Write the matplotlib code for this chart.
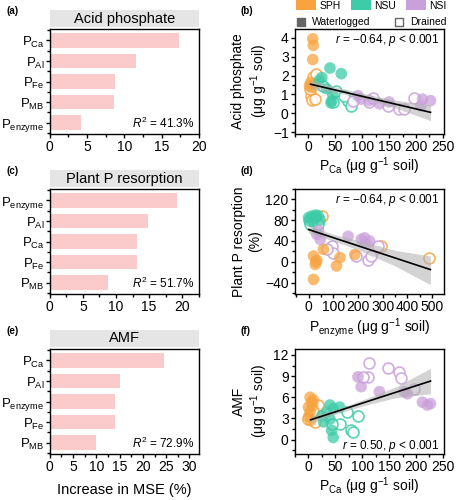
import numpy as np
import matplotlib
matplotlib.use('Agg')
import matplotlib.pyplot as plt
from matplotlib.patches import Rectangle, Patch
from matplotlib.lines import Line2D
from matplotlib.ticker import MultipleLocator

plt.rcParams['font.family'] = ['Liberation Sans', 'DejaVu Sans']
plt.rcParams['mathtext.fontset'] = 'custom'
plt.rcParams['mathtext.rm'] = 'Liberation Sans'
plt.rcParams['mathtext.it'] = 'Liberation Sans:italic'
plt.rcParams['mathtext.bf'] = 'Liberation Sans:bold'
plt.rcParams['axes.linewidth'] = 1.0

# --- random forest importance (Increase in MSE, %) ---
ap_vars = ['Ca', 'Al', 'Fe', 'MB', 'enzyme']
ap_vals = [17.3, 11.6, 8.8, 8.6, 4.2]
pr_vars = ['enzyme', 'Al', 'Ca', 'Fe', 'MB']
pr_vals = [19.25, 14.85, 13.2, 13.15, 8.85]
amf_vars = ['Ca', 'Al', 'enzyme', 'Fe', 'MB']
amf_vals = [24.5, 15.1, 14.1, 14.0, 9.95]

# --- scatter data (x, y) ---
# (b) P_Ca vs acid phosphate
b_sph_wet = [(8, 3.95), (9, 3.6), (8, 2.85), (4, 1.63), (6, 1.37), (2, 1.45), (10, 1.55)]
b_sph_dry = [(8, 1.9), (14, 2.1), (4, 0.9), (6, 0.68), (12, 0.75), (3, 1.3)]
b_nsu_wet = [(40, 2.4), (61, 2.1), (25, 1.9), (20, 1.75), (43, 0.65), (45, 1.0), (34, 1.3), (42, 0.55)]
b_nsu_dry = [(52, 1.2), (46, 0.58), (74, 0.67), (80, 0.4), (28, 1.45), (67, 0.93)]
b_nsi_wet = [(92, 0.93), (132, 0.5), (212, 0.75), (227, 0.67), (113, 0.67), (98, 0.75), (209, 0.4), (150, 0.6)]
b_nsi_dry = [(113, 0.58), (147, 0.4), (169, 0.23), (196, 0.8), (178, 0.23), (83, 0.67), (120, 0.8)]
b_fit_x = [4, 227]
b_fit_y = [1.54, 0.05]
b_band_x = [4, 60, 110, 160, 227]
b_band_lo = [1.28, 1.05, 0.72, 0.3, -0.39]
b_band_hi = [1.75, 1.33, 1.0, 0.7, 0.45]

# (d) P_enzyme vs plant P resorption
d_sph_wet = [(20, 11), (33, 3), (27, -5), (60, 24), (113, -8), (127, 8), (187, 14), (20, -34), (30, 0)]
d_sph_dry = [(53, 88), (293, 30), (487, 8)]
d_nsu_wet = [(0, 85), (13, 88), (27, 85), (40, 88), (7, 78), (20, 77), (47, 80), (30, 90)]
d_nsu_dry = [(0, 81), (7, 72), (40, 73)]
d_nsi_wet = [(160, 49), (213, 43), (227, 46), (247, 40), (33, 53), (47, 43), (40, 60), (230, 36)]
d_nsi_dry = [(93, 30), (100, 17), (240, 4), (267, 24), (280, 30), (73, 24), (253, 11), (193, 11)]
d_fit_x = [0, 493]
d_fit_y = [62, -15]
d_band_x = [0, 100, 200, 350, 493]
d_band_lo = [55, 40, 23, -8, -44]
d_band_hi = [70, 53, 41, 22, 11]

# (f) P_Ca vs AMF
f_sph_wet = [(3, 6.0), (6, 5.3), (0, 4.6), (3, 3.9), (9, 5.6), (0, 3.2), (4, 2.7), (8, 4.8)]
f_sph_dry = [(18, 4.9), (3, 3.4), (9, 4.1), (0, 2.95), (12, 2.5)]
f_nsu_wet = [(40, 4.9), (46, 4.4), (28, 2.5), (43, 1.3), (46, 0.3), (58, 4.6), (34, 3.9), (25, 3.4), (40, 2.9)]
f_nsu_dry = [(71, 3.9), (92, 3.4), (58, 2.2), (43, 2.2), (80, 1.3), (83, 1.05)]
f_nsi_wet = [(92, 8.9), (98, 7.5), (132, 6.8), (178, 6.8), (184, 6.5), (212, 5.3), (227, 5.1), (221, 4.9)]
f_nsi_dry = [(113, 10.8), (147, 10.1), (110, 8.9), (169, 9.6), (172, 8.7), (101, 8.9), (196, 7.2)]
f_fit_x = [4, 227]
f_fit_y = [2.8, 8.3]
f_band_x = [4, 60, 110, 160, 227]
f_band_lo = [2.3, 3.85, 4.95, 5.9, 6.5]
f_band_hi = [3.3, 4.5, 5.9, 7.4, 10.1]

C_SPH = '#f7a440'
C_NSU = '#3ecba8'
C_NSI = '#c9a0da'
BAR_C = '#fbcaca'
UNIT = r'(μg g$^{-1}$ soil)'

fig = plt.figure(figsize=(4.57, 5.0), dpi=100)
rows = [0.732, 0.412, 0.092]
h = 0.21
xl_bar = 0.109
xl_sc = 0.6455
w = 0.326


def style_ticks(ax):
    ax.tick_params(which='major', direction='out', length=3, width=1, labelsize=10, pad=1.5)
    ax.tick_params(which='minor', direction='out', length=2, width=1)


def bar_panel(ax, names, vals, title, r2, xmax, xstep, label):
    y = np.arange(len(names))
    ax.barh(y, vals, height=0.7, color=BAR_C, zorder=2)
    ax.set_yticks(y)
    ax.set_yticklabels([r'$\mathrm{P_{%s}}$' % n for n in names], fontsize=9.5)
    ax.set_ylim(len(names) - 0.45, -0.55)
    ax.yaxis.set_minor_locator(MultipleLocator(0.5))
    ax.set_xlim(0, xmax)
    ax.xaxis.set_major_locator(MultipleLocator(xstep))
    ax.xaxis.set_minor_locator(MultipleLocator(xstep / 2))
    style_ticks(ax)
    ax.tick_params(axis='y', which='major', labelsize=9.5, pad=1)
    ax.add_patch(Rectangle((0, 1.02), 1, 0.165, transform=ax.transAxes,
                           facecolor='#e5e5e5', edgecolor='none', clip_on=False))
    ax.text(0.5, 1.1, title, transform=ax.transAxes, ha='center', va='center', fontsize=10.5)
    ax.text(0.97, 0.1, r'$R^2$ = %s%%' % r2, transform=ax.transAxes,
            ha='right', va='center', fontsize=8.5)
    fig.text(0.014, ax.get_position().y1 + 0.037, label, fontsize=7, fontweight='bold', va='center')


def scatter_panel(ax, groups, fx, fy, bx, blo, bhi, rtext, rpos, label):
    for pts, col, wet in groups:
        xs = [p[0] for p in pts]
        ys = [p[1] for p in pts]
        if wet:
            ax.scatter(xs, ys, s=70, color=col, alpha=0.75, edgecolors='none', zorder=2)
        else:
            ax.scatter(xs, ys, s=62, facecolors='white', edgecolors=col, linewidths=1.2,
                       alpha=0.85, zorder=2)
    ax.fill_between(bx, blo, bhi, color='#b0b0b0', alpha=0.55, lw=0, zorder=3)
    ax.plot(fx, fy, color='black', lw=1.2, zorder=4)
    ax.text(0.97, rpos, rtext, transform=ax.transAxes, ha='right', va='center', fontsize=8.5)
    style_ticks(ax)
    fig.text(0.527, ax.get_position().y1 + 0.037, label, fontsize=7, fontweight='bold', va='center')


# (a) acid phosphate importance
ax_a = fig.add_axes([xl_bar, rows[0], w, h])
bar_panel(ax_a, ap_vars, ap_vals, 'Acid phosphate', '41.3', 20, 5, '(a)')

# (c) plant P resorption importance
ax_c = fig.add_axes([xl_bar, rows[1], w, h])
bar_panel(ax_c, pr_vars, pr_vals, 'Plant P resorption', '51.7', 22.5, 5, '(c)')

# (e) AMF importance
ax_e = fig.add_axes([xl_bar, rows[2], w, h])
bar_panel(ax_e, amf_vars, amf_vals, 'AMF', '72.9', 32, 5, '(e)')
ax_e.set_xlabel('Increase in MSE (%)', fontsize=10.5, labelpad=6)

# (b)
ax_b = fig.add_axes([xl_sc, rows[0], w, h])
scatter_panel(ax_b, [(b_sph_dry, C_SPH, False), (b_nsu_dry, C_NSU, False), (b_nsi_dry, C_NSI, False),
                     (b_sph_wet, C_SPH, True), (b_nsu_wet, C_NSU, True), (b_nsi_wet, C_NSI, True)],
              b_fit_x, b_fit_y, b_band_x, b_band_lo, b_band_hi,
              r'$r$ = −0.64, $p$ < 0.001', 0.9, '(b)')
ax_b.set_xlim(-25, 252)
ax_b.set_ylim(-1.1, 4.47)
ax_b.xaxis.set_major_locator(MultipleLocator(50))
ax_b.xaxis.set_minor_locator(MultipleLocator(25))
ax_b.yaxis.set_major_locator(MultipleLocator(1))
ax_b.yaxis.set_minor_locator(MultipleLocator(0.5))
ax_b.set_xlabel(r'$\mathrm{P_{Ca}}$ ' + UNIT, fontsize=10, labelpad=1)
ax_b.set_ylabel('Acid phosphate\n' + UNIT, fontsize=10, labelpad=2)

# (d)
ax_d = fig.add_axes([xl_sc, rows[1], w, h])
scatter_panel(ax_d, [(d_sph_dry, C_SPH, False), (d_nsu_dry, C_NSU, False), (d_nsi_dry, C_NSI, False),
                     (d_sph_wet, C_SPH, True), (d_nsu_wet, C_NSU, True), (d_nsi_wet, C_NSI, True)],
              d_fit_x, d_fit_y, d_band_x, d_band_lo, d_band_hi,
              r'$r$ = −0.64, $p$ < 0.001', 0.9, '(d)')
ax_d.set_xlim(-55, 548)
ax_d.set_ylim(-62, 140)
ax_d.xaxis.set_major_locator(MultipleLocator(100))
ax_d.xaxis.set_minor_locator(MultipleLocator(50))
ax_d.yaxis.set_major_locator(MultipleLocator(40))
ax_d.yaxis.set_minor_locator(MultipleLocator(20))
ax_d.set_xlabel(r'$\mathrm{P_{enzyme}}$ ' + UNIT, fontsize=10, labelpad=1)
ax_d.set_ylabel('Plant P resorption\n(%)', fontsize=10, labelpad=2)

# (f)
ax_f = fig.add_axes([xl_sc, rows[2], w, h])
scatter_panel(ax_f, [(f_sph_dry, C_SPH, False), (f_nsu_dry, C_NSU, False), (f_nsi_dry, C_NSI, False),
                     (f_sph_wet, C_SPH, True), (f_nsu_wet, C_NSU, True), (f_nsi_wet, C_NSI, True)],
              f_fit_x, f_fit_y, f_band_x, f_band_lo, f_band_hi,
              r'$r$ = 0.50, $p$ < 0.001', 0.08, '(f)')
ax_f.set_xlim(-25, 252)
ax_f.set_ylim(-2.05, 12.85)
ax_f.xaxis.set_major_locator(MultipleLocator(50))
ax_f.xaxis.set_minor_locator(MultipleLocator(25))
ax_f.yaxis.set_major_locator(MultipleLocator(3))
ax_f.yaxis.set_minor_locator(MultipleLocator(1.5))
ax_f.set_xlabel(r'$\mathrm{P_{Ca}}$ ' + UNIT, fontsize=10, labelpad=1)
ax_f.set_ylabel('AMF\n' + UNIT, fontsize=10, labelpad=2)

# legends above (b)
site_handles = [Patch(facecolor=C_SPH, edgecolor='none'),
                Patch(facecolor=C_NSU, edgecolor='none'),
                Patch(facecolor=C_NSI, edgecolor='none')]
leg1 = fig.legend(site_handles, ['SPH', 'NSU', 'NSI'], ncol=3, loc='upper center',
                  bbox_to_anchor=(0.812, 1.012), frameon=False, fontsize=7.5,
                  handlelength=1.9, handleheight=1.1, handletextpad=0.3, columnspacing=1.0,
                  borderaxespad=0.2)
state_handles = [Line2D([], [], marker='s', ls='none', color='#666666', markersize=6),
                 Line2D([], [], marker='s', ls='none', markerfacecolor='white',
                        markeredgecolor='#666666', markersize=6)]
leg2 = fig.legend(state_handles, ['Waterlogged', 'Drained'], ncol=2, loc='upper center',
                  bbox_to_anchor=(0.812, 0.978), frameon=False, fontsize=7.5,
                  handlelength=1.0, handletextpad=0.6, columnspacing=2.2,
                  borderaxespad=0.2)

fig.savefig('out.png', dpi=100)
